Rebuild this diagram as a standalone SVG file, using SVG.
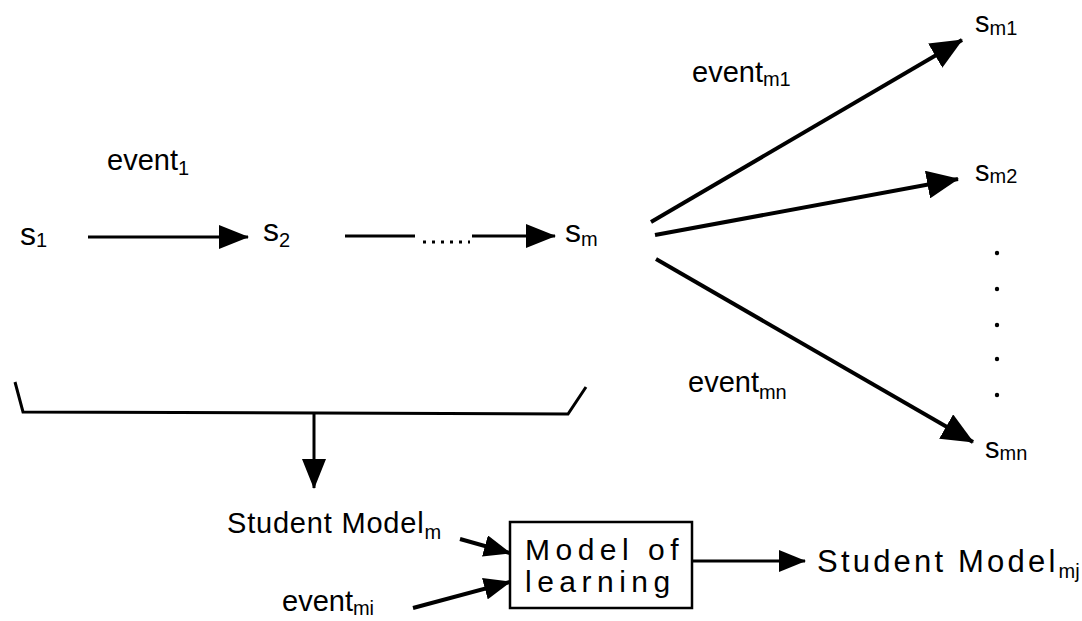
<svg xmlns="http://www.w3.org/2000/svg" width="1082" height="621" viewBox="0 0 1082 621">
<style>
text{font-family:"Liberation Sans",Arial,Helvetica,sans-serif;fill:#000}
.st{font-size:32px}
.sn{font-size:29px}
.ev{font-size:29px}
.sub{font-size:20px}
.ln{stroke:#000;stroke-width:3;fill:none}
.fan{stroke:#000;stroke-width:4;fill:none}
.box{stroke:#000;stroke-width:2.5;fill:#fff}
.big{font-size:30px;letter-spacing:5.5px}
</style>
<defs>
<marker id="ah" viewBox="0 0 30 24" refX="29" refY="12" markerWidth="30" markerHeight="24" markerUnits="userSpaceOnUse" orient="auto">
<path d="M0,0 L30,12 L0,24 Z" fill="#000"/>
</marker>
<marker id="ahl" viewBox="0 0 32 28" refX="31" refY="14" markerWidth="32" markerHeight="28" markerUnits="userSpaceOnUse" orient="auto">
<path d="M0,0 L32,14 L0,28 Z" fill="#000"/>
</marker>
<marker id="ahs" viewBox="0 0 27 22" refX="26" refY="11" markerWidth="27" markerHeight="22" markerUnits="userSpaceOnUse" orient="auto">
<path d="M0,0 L27,11 L0,22 Z" fill="#000"/>
</marker>
</defs>

<g id="connectors">
<line class="ln" x1="88" y1="237" x2="248" y2="237" marker-end="url(#ah)"/>
<line class="ln" x1="345" y1="236" x2="415" y2="236"/>
<line class="ln" x1="423" y1="242" x2="470" y2="242" stroke-dasharray="3 6"/>
<line class="ln" x1="472" y1="236" x2="555" y2="236" marker-end="url(#ah)"/>
<line class="fan" x1="651" y1="222" x2="962" y2="40" marker-end="url(#ahl)"/>
<line class="fan" x1="655" y1="235" x2="958" y2="179" marker-end="url(#ahl)"/>
<line class="fan" x1="656" y1="259" x2="973" y2="442" marker-end="url(#ahl)"/>
<polyline class="ln" points="15,382 23,412 568,414 586,387"/>
<line class="ln" x1="314" y1="413" x2="314" y2="488" marker-end="url(#ah)"/>
<line class="fan" x1="460" y1="539" x2="510" y2="553" marker-end="url(#ahs)"/>
<line class="fan" x1="413" y1="608" x2="510" y2="582" marker-end="url(#ahs)"/>
<line class="ln" x1="692" y1="561" x2="805" y2="561" marker-end="url(#ahs)"/>
</g>

<g id="dots">
<circle cx="997" cy="253" r="2.2"/>
<circle cx="997" cy="289" r="2.2"/>
<circle cx="997" cy="325" r="2.2"/>
<circle cx="997" cy="359" r="2.2"/>
<circle cx="997" cy="395" r="2.2"/>
</g>

<g id="event1"><text class="ev" x="107" y="170">event<tspan class="sub" dy="5">1</tspan></text></g>
<g id="s1"><text class="st" x="20" y="245">s<tspan class="sub" dy="2">1</tspan></text></g>
<g id="s2"><text class="st" x="263" y="241">s<tspan class="sub" dy="6">2</tspan></text></g>
<g id="sm"><text class="st" x="565" y="242">s<tspan class="sub" dy="4">m</tspan></text></g>
<g id="eventm1"><text class="ev" x="692" y="82">event<tspan class="sub" dy="4">m1</tspan></text></g>
<g id="sm1"><text class="sn" x="975" y="32">s<tspan class="sub" dy="3">m1</tspan></text></g>
<g id="sm2"><text class="sn" x="975" y="181">s<tspan class="sub" dy="2">m2</tspan></text></g>
<g id="eventmn"><text class="ev" x="688" y="392">event<tspan class="sub" dy="7">mn</tspan></text></g>
<g id="smn"><text class="sn" x="985" y="458">s<tspan class="sub" dy="2">mn</tspan></text></g>
<g id="studentm"><text class="ev" x="227" y="533" style="letter-spacing:0.8px">Student Model<tspan class="sub" dy="6" style="letter-spacing:0">m</tspan></text></g>
<g id="eventmi"><text class="ev" x="282" y="611">event<tspan class="sub" dy="4">mi</tspan></text></g>
<g id="model">
<rect class="box" x="510" y="522" width="182" height="86"/>
<text class="big" x="525" y="560">Model of</text>
<text class="big" x="525" y="592">learning</text>
</g>
<g id="studentmj"><text x="817" y="572" style="letter-spacing:3.2px;font-size:31px">Student Model<tspan class="sub" dy="6" style="letter-spacing:0">mj</tspan></text></g>
</svg>
